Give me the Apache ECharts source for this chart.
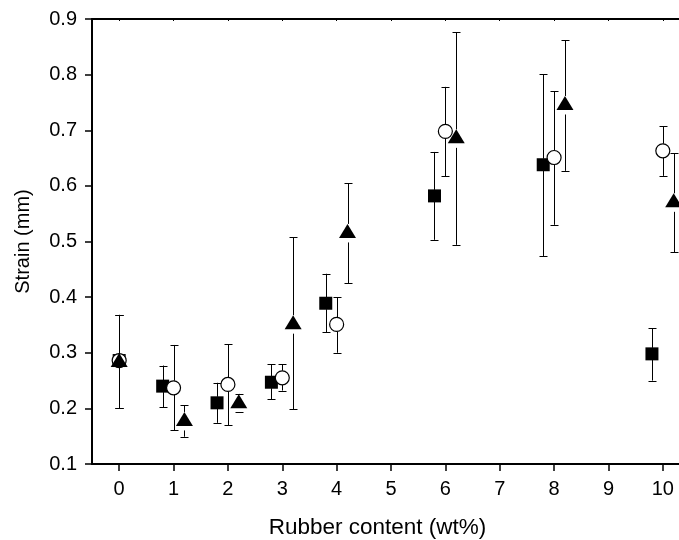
<!DOCTYPE html>
<html>
<head>
<meta charset="utf-8">
<script src="https://cdn.jsdelivr.net/npm/echarts@6/dist/echarts.min.js"></script>
<style>html,body{margin:0;padding:0;background:#fff;}#c{width:679px;height:540px;}</style>
</head>
<body>
<div id="c"></div>
<script>
// x positions (rubber content, wt%) for each marker set
const xSquare   = [0, 0.8, 1.8, 2.8, 3.8, 5.8, 7.8, 9.8];
const xCircle   = [0, 1, 2, 3, 4, 6, 8, 10];
const xTriangle = [0, 1.2, 2.2, 3.2, 4.2, 6.2, 8.2, 10.2];

// strain values (mm)
const ySquare   = [0.286, 0.240, 0.210, 0.247, 0.389, 0.582, 0.638, 0.298];
const loSquare  = [0.201, 0.202, 0.174, 0.216, 0.337, 0.503, 0.474, 0.250];
const hiSquare  = [0.368, 0.277, 0.246, 0.279, 0.442, 0.661, 0.801, 0.344];

const yCircle   = [0.286, 0.237, 0.243, 0.255, 0.351, 0.698, 0.651, 0.663];
const loCircle  = [0.201, 0.161, 0.170, 0.232, 0.300, 0.617, 0.530, 0.618];
const hiCircle  = [0.368, 0.314, 0.315, 0.279, 0.400, 0.778, 0.770, 0.707];

const yTriangle  = [0.287, 0.181, 0.213, 0.355, 0.519, 0.689, 0.749, 0.574];
const loTriangle = [0.201, 0.149, 0.194, 0.198, 0.425, 0.494, 0.627, 0.481];
const hiTriangle = [0.368, 0.206, 0.226, 0.508, 0.605, 0.876, 0.862, 0.659];

const xTicks = [0, 1, 2, 3, 4, 5, 6, 7, 8, 9, 10];

function pts(xs, ys) { return xs.map((x, i) => [x, ys[i]]); }
function bars(xs, ys, lo, hi) { return xs.map((x, i) => [x, lo[i], hi[i], ys[i]]); }

function barRenderer(gapTop, gapBottom) {
  return function (params, api) {
    const x = api.value(0), lo = api.value(1), hi = api.value(2), v = api.value(3);
    const pc = api.coord([x, v]);
    const pl = api.coord([x, lo]);
    const ph = api.coord([x, hi]);
    const cx = Math.round(pc[0]) + 0.5;
    const cap = 4;
    const st = { stroke: '#000', lineWidth: 1 };
    const kids = [];
    if (ph[1] < pc[1] - gapTop) kids.push({ type: 'line', shape: { x1: cx, y1: ph[1], x2: cx, y2: pc[1] - gapTop }, style: st });
    if (pl[1] > pc[1] + gapBottom) kids.push({ type: 'line', shape: { x1: cx, y1: pc[1] + gapBottom, x2: cx, y2: pl[1] }, style: st });
    kids.push({ type: 'line', shape: { x1: cx - cap, y1: Math.round(ph[1]) + 0.5, x2: cx + cap, y2: Math.round(ph[1]) + 0.5 }, style: st });
    kids.push({ type: 'line', shape: { x1: cx - cap, y1: Math.round(pl[1]) + 0.5, x2: cx + cap, y2: Math.round(pl[1]) + 0.5 }, style: st });
    return { type: 'group', children: kids };
  };
}

const FONT = 'Liberation Sans, Arial, sans-serif';
const chart = echarts.init(document.getElementById('c'), null, { renderer: 'canvas' });
chart.setOption({
  animation: false,
  backgroundColor: '#fff',
  grid: { left: 92, top: 19, bottom: 76, right: -11, containLabel: false, outerBoundsMode: 'none' },
  xAxis: [{
    type: 'value', min: -0.5, max: 10.5, interval: 1,
    name: 'Rubber content (wt%)', nameLocation: 'middle', nameGap: 52,
    nameTextStyle: { fontFamily: FONT, fontSize: 22.5, color: '#000', padding: [0, 27, 0, 0] },
    axisLine: { show: true, onZero: false, lineStyle: { color: '#000', width: 2 } },
    axisTick: { show: true, inside: false, length: 7, lineStyle: { color: '#000', width: 1.5 },
      customValues: xTicks },
    axisLabel: { fontFamily: FONT, fontSize: 20, color: '#000', margin: 15,
      customValues: xTicks,
      formatter: v => (Number.isInteger(v) && v >= 0 ? String(v) : '') },
    splitLine: { show: false }
  }, {
    type: 'value', position: 'top', min: -0.5, max: 10.5, interval: 1,
    axisLine: { show: true, onZero: false, lineStyle: { color: '#000', width: 2 } },
    axisTick: { show: true, inside: true, length: 2, lineStyle: { color: '#000', width: 1 }, customValues: xTicks },
    axisLabel: { show: false },
    splitLine: { show: false }
  }],
  yAxis: [{
    type: 'value', min: 0.1, max: 0.9, interval: 0.1,
    name: 'Strain (mm)', nameLocation: 'middle', nameGap: 59, nameRotate: 90,
    nameTextStyle: { fontFamily: FONT, fontSize: 20, color: '#000' },
    axisLine: { show: true, onZero: false, lineStyle: { color: '#000', width: 2 } },
    axisTick: { show: true, inside: false, length: 7, lineStyle: { color: '#000', width: 1.5 } },
    axisLabel: { fontFamily: FONT, fontSize: 20, color: '#000', margin: 15,
      formatter: v => v.toFixed(1) },
    splitLine: { show: false }
  }],
  series: [
    { type: 'custom', renderItem: barRenderer(6, 6), data: bars(xSquare, ySquare, loSquare, hiSquare),
      encode: { x: 0, y: [1, 2] }, z: 1, silent: true },
    { type: 'custom', renderItem: barRenderer(7, 7), data: bars(xCircle, yCircle, loCircle, hiCircle),
      encode: { x: 0, y: [1, 2] }, z: 1, silent: true },
    { type: 'custom', renderItem: barRenderer(7, 11.5), data: bars(xTriangle, yTriangle, loTriangle, hiTriangle),
      encode: { x: 0, y: [1, 2] }, z: 1, silent: true },
    { type: 'scatter', data: pts(xSquare, ySquare), symbol: 'rect', symbolSize: 13, z: 3,
      itemStyle: { color: '#000', opacity: 1 } },
    { type: 'scatter', data: pts(xCircle, yCircle), symbol: 'circle', symbolSize: 14, z: 4,
      itemStyle: { color: '#fff', borderColor: '#000', borderWidth: 1.2, opacity: 1 } },
    { type: 'scatter', data: pts(xTriangle, yTriangle), symbol: 'triangle', symbolSize: [17, 14], z: 5,
      itemStyle: { color: '#000', opacity: 1 } }
  ]
});
</script>
</body>
</html>
